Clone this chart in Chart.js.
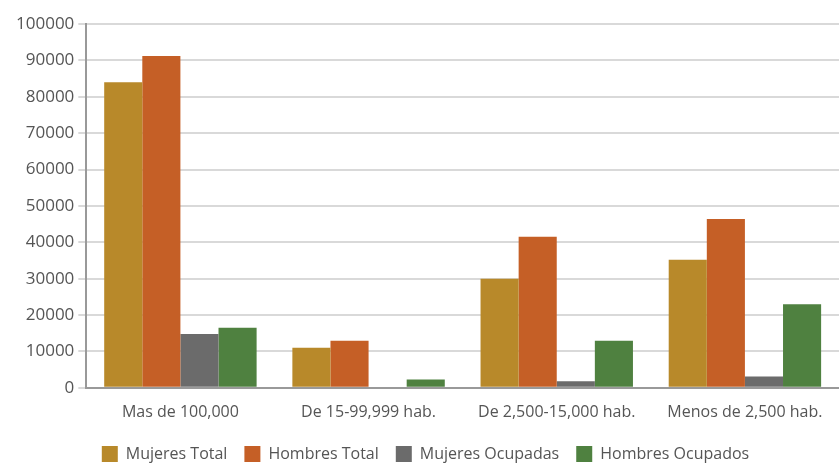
<!DOCTYPE html>
<html>
<head>
<meta charset="utf-8">
<script src="https://cdn.jsdelivr.net/npm/chart.js@4"></script>
<style>
  html, body { margin: 0; padding: 0; background: #fff; }
  #wrap { width: 839px; height: 464px; }
</style>
</head>
<body>
<div id="wrap"><canvas id="chBar"></canvas></div>
<script>
// data
var categories = ["Mas de 100,000", "De 15-99,999 hab.", "De 2,500-15,000 hab.", "Menos de 2,500 hab."];
var mujeresTotal = [84000, 11000, 30000, 35200];
var hombresTotal = [91200, 12900, 41500, 46400];
var mujeresOcupadas = [14800, 300, 1800, 3100];
var hombresOcupados = [16500, 2300, 12900, 23000];

// chart colors
var colors = ["#b8892a", "#c55f26", "#6b6b6b", "#4f8140"];
var font = "'Open Sans', sans-serif";

// keep the legend short while it keeps wide gaps between its items
var legendHeight = {
  id: "legendHeight",
  afterInit: function (chart) {
    var lg = chart.legend;
    var fit = lg.fit;
    lg.fit = function () {
      fit.call(this);
      this.height = 35;
    };
  }
};

var chBar = document.getElementById("chBar");
new Chart(chBar, {
  type: "bar",
  data: {
    labels: categories,
    datasets: [
      { label: "Mujeres Total", data: mujeresTotal, backgroundColor: colors[0] },
      { label: "Hombres Total", data: hombresTotal, backgroundColor: colors[1] },
      { label: "Mujeres Ocupadas", data: mujeresOcupadas, backgroundColor: colors[2] },
      { label: "Hombres Ocupados", data: hombresOcupados, backgroundColor: colors[3] }
    ]
  },
  plugins: [legendHeight],
  options: {
    responsive: true,
    maintainAspectRatio: false,
    animation: false,
    layout: { padding: { top: 24, left: 12, right: 0, bottom: 0 } },
    datasets: { bar: { categoryPercentage: 0.81, barPercentage: 1 } },
    plugins: {
      legend: {
        position: "bottom",
        labels: {
          boxWidth: 16,
          boxHeight: 16,
          padding: 17,
          color: "#555",
          font: { family: font, size: 16 }
        }
      },
      tooltip: { enabled: false }
    },
    scales: {
      x: {
        grid: { display: false },
        border: { color: "#999", width: 2 },
        ticks: { color: "#555", padding: 7, font: { family: font, size: 16 } }
      },
      y: {
        min: 0,
        max: 100000,
        ticks: {
          stepSize: 10000,
          color: "#555",
          padding: 4,
          font: { family: font, size: 17 },
          callback: function (v) { return String(v); }
        },
        grid: { color: "#d9d9d9", lineWidth: 2, tickLength: 8 },
        border: { color: "#999", width: 2 }
      }
    }
  }
});
</script>
</body>
</html>
